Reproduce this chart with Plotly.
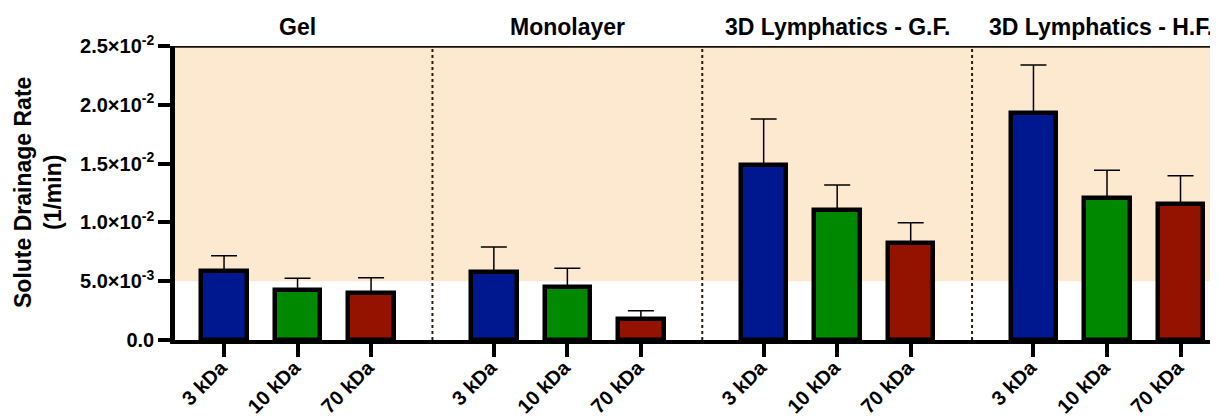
import plotly.graph_objects as go

groups = ["Gel", "Monolayer", "3D Lymphatics - G.F.", "3D Lymphatics - H.F."]
sizes = ["3 kDa", "10 kDa", "70 kDa"]
colors = ["#00188F", "#008800", "#931300"]

# values per group: [3 kDa, 10 kDa, 70 kDa]
means = [
    [0.00589, 0.00422, 0.00402],
    [0.00578, 0.00450, 0.00176],
    [0.01488, 0.01105, 0.00822],
    [0.01933, 0.01205, 0.01154],
]
errs = [
    [0.00128, 0.00103, 0.00128],
    [0.00212, 0.00160, 0.00073],
    [0.00391, 0.00213, 0.00176],
    [0.00405, 0.00238, 0.00243],
]

ytickvals = [0, 0.005, 0.01, 0.015, 0.02, 0.025]
yticktext = ["0.0", "5.0×10<sup>-3</sup>", "1.0×10<sup>-2</sup>", "1.5×10<sup>-2</sup>",
             "2.0×10<sup>-2</sup>", "2.5×10<sup>-2</sup>"]

group_step = 3.67
FONT = "Arial, Liberation Sans, sans-serif"

fig = go.Figure()
xvals, xtext = [], []
for si, s in enumerate(sizes):
    xs = [g * group_step + si for g in range(len(groups))]
    fig.add_trace(go.Bar(
        x=xs, y=[means[g][si] for g in range(len(groups))],
        width=0.62,
        marker=dict(color=colors[si], line=dict(color="black", width=4.5)),
        error_y=dict(type="data", symmetric=False,
                     array=[errs[g][si] for g in range(len(groups))],
                     arrayminus=[0] * len(groups),
                     color="black", thickness=1.5, width=13),
        showlegend=False,
    ))
for g in range(len(groups)):
    for si, s in enumerate(sizes):
        xvals.append(g * group_step + si)
        xtext.append(s)

shapes = [
    dict(type="rect", xref="paper", yref="y", x0=0, x1=1, y0=0.005, y1=0.025,
         fillcolor="#FDE9CF", line=dict(width=0), layer="below"),
    dict(type="line", xref="paper", yref="y", x0=0, x1=1, y0=0.025, y1=0.025,
         line=dict(color="#1a1208", width=3.5)),
]
for g in range(len(groups) - 1):
    xsep = g * group_step + 2 + (group_step - 2) / 2
    shapes.append(dict(type="line", xref="x", yref="y", x0=xsep, x1=xsep, y0=0, y1=0.025,
                       line=dict(color="#2b1d0e", width=2, dash="dot"), layer="below"))

title_shift = [0, 0, 0, -6]
annotations = []
for g, name in enumerate(groups):
    annotations.append(dict(x=g * group_step + 1, y=1, xref="x", yref="paper",
                            text=name, showarrow=False, yanchor="middle", yshift=19,
                            xshift=title_shift[g],
                            font=dict(family=FONT, size=23, color="black", weight="bold")))
annotations.append(dict(x=0, y=0.5, xref="paper", yref="paper", xshift=-137,
                        text="Solute Drainage Rate<br>(1/min)", textangle=-90,
                        showarrow=False, xanchor="center", yanchor="middle",
                        font=dict(family=FONT, size=23, color="black", weight="bold")))

# page has an 8px body margin; shrink figure so the plot lands where the reference has it
fig.update_layout(
    width=1210, height=410,
    margin=dict(l=167, r=0, t=38, b=78),
    plot_bgcolor="white", paper_bgcolor="white",
    bargap=0, barmode="overlay",
    shapes=shapes, annotations=annotations,
    font=dict(family=FONT, size=20, color="black", weight="bold"),
    xaxis=dict(range=[-0.667, 13.52], tickvals=xvals, ticktext=xtext, tickangle=-45,
               showline=True, linecolor="black", linewidth=4, ticks="outside",
               ticklen=13, tickwidth=4, tickcolor="black", showgrid=False, zeroline=False,
               automargin=False, ticklabelstandoff=-9, ticklabelshift=-3,
               tickfont=dict(family=FONT, size=20, color="black", weight="bold")),
    yaxis=dict(range=[0, 0.025], tickvals=ytickvals, ticktext=yticktext,
               showline=True, linecolor="black", linewidth=4.5, ticks="outside",
               ticklen=12, tickwidth=4, tickcolor="black", showgrid=False, zeroline=False,
               automargin=False,
               tickfont=dict(family=FONT, size=20, color="black", weight="bold")),
)

fig.write_html("out.html")
